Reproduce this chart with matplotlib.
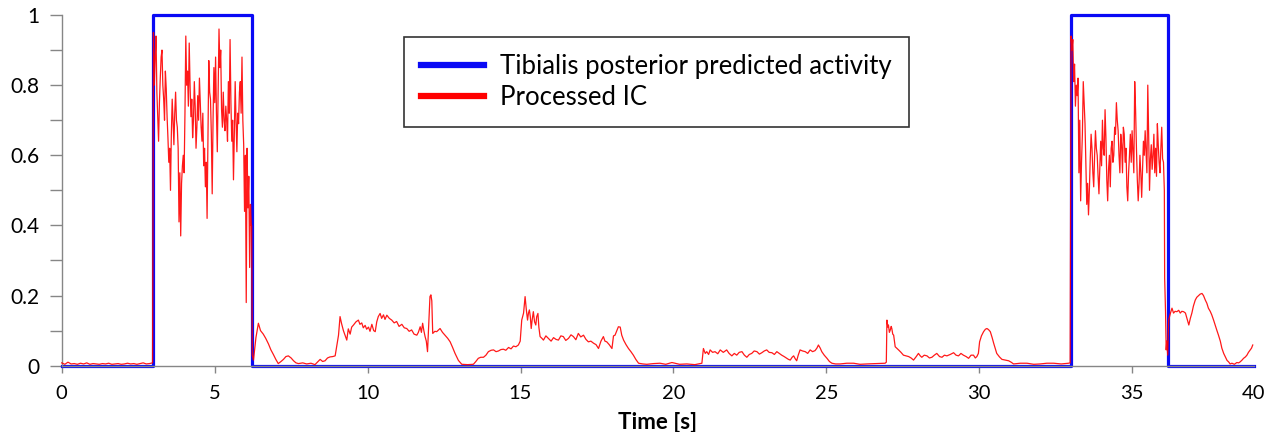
import numpy as np
import matplotlib
matplotlib.use("Agg")
import matplotlib.pyplot as plt
from matplotlib.lines import Line2D

plt.rcParams["font.family"] = ["Lato", "DejaVu Sans"]

# predicted activity (step function, value holds until next time)
pred_t = [0.0, 3.0, 6.21, 33.0, 36.17, 38.98]
pred_v = [0, 1, 0, 1, 0, 0]

# processed IC -- rest before first burst (uniform samples 0 .. 2.97 s)
ic_rest = [0.008, 0.004, 0.010, 0.005, 0.006, 0.004, 0.007, 0.005, 0.008, 0.004,
           0.006, 0.005, 0.004, 0.006, 0.005, 0.007, 0.004, 0.005, 0.006, 0.004,
           0.005, 0.007, 0.005, 0.006, 0.004, 0.006, 0.008, 0.005, 0.006, 0.008]

# first burst (uniform samples 3.0 .. 6.2 s)
ic_burst1 = [0.95, 0.80, 0.88, 0.94, 0.78, 0.71, 0.64, 0.75, 0.82, 0.88, 0.90, 0.80,
             0.76, 0.70, 0.84, 0.79, 0.71, 0.65, 0.58, 0.62, 0.50, 0.66, 0.76, 0.70,
             0.63, 0.72, 0.78, 0.70, 0.68, 0.62, 0.41, 0.55, 0.37, 0.52, 0.57, 0.60,
             0.55, 0.72, 0.94, 0.80, 0.84, 0.74, 0.92, 0.80, 0.71, 0.76, 0.65, 0.70,
             0.81, 0.74, 0.62, 0.68, 0.77, 0.70, 0.82, 0.75, 0.68, 0.64, 0.72, 0.57,
             0.62, 0.51, 0.58, 0.42, 0.65, 0.87, 0.78, 0.76, 0.66, 0.49, 0.70, 0.85,
             0.75, 0.88, 0.72, 0.61, 0.78, 0.96, 0.85, 0.90, 0.73, 0.68, 0.78, 0.70,
             0.67, 0.74, 0.70, 0.64, 0.81, 0.72, 0.93, 0.75, 0.64, 0.70, 0.53, 0.66,
             0.81, 0.70, 0.61, 0.72, 0.69, 0.78, 0.81, 0.72, 0.88, 0.70, 0.63, 0.44,
             0.60, 0.18, 0.62, 0.45, 0.54, 0.28, 0.46, 0.40]

# quiet stretches, (time, value) pairs
ic_mid1 = [(6.21, 0.40), (6.23, 0.03), (6.27, 0.016), (6.35, 0.08), (6.43, 0.121),
           (6.50, 0.100), (6.59, 0.090), (6.67, 0.078), (6.76, 0.062), (6.84, 0.045),
           (6.92, 0.032), (7.00, 0.018), (7.08, 0.006), (7.17, 0.012), (7.25, 0.018),
           (7.33, 0.026), (7.41, 0.028), (7.50, 0.022), (7.58, 0.014), (7.66, 0.008),
           (7.74, 0.006), (7.88, 0.008), (8.01, 0.005), (8.15, 0.007), (8.28, 0.003),
           (8.36, 0.010), (8.45, 0.018), (8.53, 0.012), (8.61, 0.014), (8.69, 0.022),
           (8.77, 0.025), (8.86, 0.026), (8.94, 0.028), (9.00, 0.060), (9.05, 0.087),
           (9.10, 0.140), (9.15, 0.120), (9.21, 0.100), (9.27, 0.085), (9.32, 0.073),
           (9.37, 0.105), (9.43, 0.090), (9.48, 0.110), (9.54, 0.116), (9.62, 0.125),
           (9.70, 0.130), (9.75, 0.118), (9.81, 0.122), (9.86, 0.108), (9.92, 0.115),
           (9.97, 0.104), (10.03, 0.110), (10.08, 0.098), (10.14, 0.118), (10.20, 0.100),
           (10.25, 0.097), (10.30, 0.125), (10.35, 0.140), (10.41, 0.149), (10.46, 0.135),
           (10.52, 0.145), (10.57, 0.132), (10.63, 0.144), (10.71, 0.135), (10.79, 0.130),
           (10.87, 0.122), (10.95, 0.126), (11.03, 0.112), (11.12, 0.118), (11.20, 0.108),
           (11.28, 0.106), (11.36, 0.098), (11.44, 0.102), (11.52, 0.090), (11.61, 0.087),
           (11.66, 0.095), (11.72, 0.111), (11.76, 0.095), (11.80, 0.121), (11.84, 0.100),
           (11.88, 0.083), (11.92, 0.070), (11.96, 0.040), (12.00, 0.116), (12.04, 0.197),
           (12.07, 0.202), (12.10, 0.185), (12.13, 0.092), (12.20, 0.098), (12.26, 0.097),
           (12.37, 0.106), (12.45, 0.095), (12.53, 0.087), (12.62, 0.078), (12.70, 0.068),
           (12.78, 0.052), (12.86, 0.035), (12.97, 0.015), (13.08, 0.004), (13.27, 0.003),
           (13.46, 0.004)]

ic_mid2 = [(13.54, 0.012), (13.62, 0.021), (13.70, 0.024), (13.79, 0.024), (13.87, 0.030),
           (13.95, 0.040), (14.04, 0.044), (14.12, 0.045), (14.20, 0.040), (14.28, 0.042),
           (14.36, 0.046), (14.44, 0.047), (14.52, 0.044), (14.61, 0.052), (14.69, 0.048),
           (14.77, 0.056), (14.85, 0.054), (14.93, 0.059), (14.99, 0.070), (15.04, 0.130),
           (15.10, 0.150), (15.15, 0.197), (15.19, 0.160), (15.23, 0.130), (15.26, 0.150),
           (15.29, 0.159), (15.32, 0.140), (15.35, 0.106), (15.38, 0.130), (15.42, 0.154),
           (15.46, 0.125), (15.50, 0.116), (15.53, 0.140), (15.57, 0.149), (15.60, 0.110),
           (15.64, 0.083), (15.70, 0.078), (15.75, 0.073), (15.83, 0.085), (15.91, 0.078),
           (16.00, 0.070), (16.08, 0.080), (16.16, 0.075), (16.24, 0.073), (16.32, 0.085),
           (16.40, 0.083), (16.48, 0.072), (16.57, 0.078), (16.65, 0.088), (16.73, 0.083),
           (16.81, 0.074), (16.89, 0.092), (16.97, 0.082), (17.06, 0.087), (17.14, 0.075),
           (17.22, 0.068), (17.30, 0.070), (17.39, 0.064), (17.47, 0.060), (17.55, 0.049),
           (17.63, 0.070), (17.71, 0.083), (17.76, 0.070), (17.82, 0.068), (17.90, 0.060),
           (17.99, 0.049), (18.04, 0.085), (18.09, 0.087), (18.15, 0.100), (18.20, 0.111),
           (18.26, 0.110), (18.31, 0.087), (18.37, 0.073), (18.45, 0.060), (18.53, 0.049),
           (18.61, 0.040), (18.69, 0.030), (18.77, 0.018), (18.86, 0.007), (19.00, 0.005),
           (19.13, 0.004), (19.35, 0.006), (19.56, 0.007), (19.75, 0.004), (19.95, 0.009),
           (20.20, 0.004), (20.44, 0.005), (20.70, 0.003), (20.93, 0.007)]

ic_mid3 = [(20.98, 0.049), (21.04, 0.035), (21.09, 0.040), (21.15, 0.032), (21.20, 0.045),
           (21.28, 0.038), (21.36, 0.040), (21.45, 0.034), (21.53, 0.045), (21.63, 0.038),
           (21.74, 0.045), (21.82, 0.035), (21.91, 0.028), (21.99, 0.035), (22.07, 0.030),
           (22.15, 0.038), (22.24, 0.040), (22.32, 0.030), (22.40, 0.024), (22.48, 0.032),
           (22.56, 0.035), (22.64, 0.042), (22.73, 0.040), (22.81, 0.033), (22.89, 0.037),
           (22.97, 0.042), (23.05, 0.045), (23.13, 0.038), (23.22, 0.037), (23.30, 0.032),
           (23.38, 0.040), (23.46, 0.035), (23.54, 0.030), (23.62, 0.026), (23.71, 0.021),
           (23.76, 0.018), (23.82, 0.016), (23.88, 0.024), (23.93, 0.028), (23.98, 0.020),
           (24.03, 0.014), (24.08, 0.030), (24.14, 0.045), (24.22, 0.042), (24.31, 0.040),
           (24.39, 0.035), (24.47, 0.045), (24.55, 0.040), (24.63, 0.043), (24.69, 0.050),
           (24.74, 0.059), (24.80, 0.050), (24.85, 0.040), (24.93, 0.030), (25.02, 0.021),
           (25.10, 0.012), (25.18, 0.007), (25.30, 0.005), (25.45, 0.005), (25.67, 0.007),
           (25.89, 0.007), (26.10, 0.004), (26.32, 0.005), (26.62, 0.006), (26.92, 0.007)]

ic_mid4 = [(26.96, 0.010), (26.98, 0.130), (27.01, 0.110), (27.03, 0.116), (27.06, 0.095),
           (27.09, 0.102), (27.12, 0.112), (27.14, 0.106), (27.17, 0.090), (27.20, 0.087),
           (27.25, 0.054), (27.30, 0.050), (27.36, 0.045), (27.44, 0.038), (27.52, 0.030),
           (27.60, 0.028), (27.69, 0.026), (27.77, 0.022), (27.85, 0.016), (27.93, 0.025),
           (28.01, 0.035), (28.07, 0.028), (28.12, 0.024), (28.20, 0.030), (28.29, 0.028),
           (28.37, 0.022), (28.45, 0.024), (28.53, 0.030), (28.61, 0.035), (28.70, 0.026),
           (28.78, 0.024), (28.86, 0.030), (28.94, 0.028), (29.05, 0.032), (29.16, 0.037),
           (29.24, 0.030), (29.32, 0.028), (29.40, 0.035), (29.48, 0.030), (29.57, 0.026),
           (29.65, 0.021), (29.73, 0.030), (29.81, 0.030), (29.87, 0.022), (29.92, 0.026),
           (29.97, 0.035), (30.01, 0.068), (30.07, 0.085), (30.14, 0.097), (30.20, 0.104),
           (30.25, 0.106), (30.30, 0.103), (30.36, 0.097), (30.42, 0.080), (30.47, 0.064),
           (30.52, 0.050), (30.57, 0.035), (30.66, 0.025), (30.74, 0.018), (30.85, 0.016),
           (30.96, 0.014), (31.04, 0.010), (31.12, 0.005), (31.34, 0.007), (31.56, 0.007),
           (31.78, 0.004), (31.99, 0.005), (32.21, 0.007), (32.43, 0.007), (32.68, 0.005),
           (32.92, 0.007), (32.97, 0.008)]

# second burst (uniform samples 33.0 .. 36.05 s)
ic_burst2 = [0.94, 0.90, 0.93, 0.81, 0.86, 0.74, 0.80, 0.77, 0.82, 0.55, 0.70, 0.47,
             0.58, 0.66, 0.81, 0.75, 0.69, 0.58, 0.46, 0.52, 0.43, 0.50, 0.59, 0.66,
             0.62, 0.55, 0.51, 0.60, 0.67, 0.62, 0.60, 0.54, 0.49, 0.57, 0.64, 0.57,
             0.70, 0.62, 0.60, 0.73, 0.65, 0.53, 0.47, 0.56, 0.60, 0.51, 0.62, 0.64,
             0.58, 0.60, 0.68, 0.66, 0.75, 0.70, 0.67, 0.60, 0.55, 0.66, 0.63, 0.55,
             0.68, 0.66, 0.58, 0.62, 0.51, 0.47, 0.55, 0.60, 0.66, 0.58, 0.67, 0.61,
             0.55, 0.81, 0.73, 0.62, 0.53, 0.47, 0.52, 0.60, 0.55, 0.48, 0.56, 0.64,
             0.60, 0.67, 0.61, 0.55, 0.80, 0.66, 0.50, 0.59, 0.63, 0.56, 0.60, 0.66,
             0.55, 0.62, 0.54, 0.69, 0.63, 0.58, 0.55, 0.62, 0.68, 0.59, 0.58, 0.50]

ic_tail = [(36.06, 0.25), (36.09, 0.15), (36.11, 0.045), (36.13, 0.07), (36.16, 0.03),
           (36.19, 0.13), (36.25, 0.15), (36.30, 0.164), (36.35, 0.150), (36.40, 0.155),
           (36.46, 0.154), (36.52, 0.158), (36.57, 0.150), (36.62, 0.155), (36.68, 0.154),
           (36.74, 0.150), (36.79, 0.135), (36.85, 0.116), (36.90, 0.135), (36.95, 0.150),
           (37.00, 0.170), (37.06, 0.187), (37.11, 0.195), (37.17, 0.200), (37.22, 0.204),
           (37.28, 0.206), (37.33, 0.200), (37.39, 0.187), (37.44, 0.178), (37.49, 0.164),
           (37.55, 0.155), (37.60, 0.145), (37.66, 0.130), (37.71, 0.116), (37.77, 0.100),
           (37.82, 0.087), (37.88, 0.070), (37.93, 0.050), (37.99, 0.035), (38.04, 0.026),
           (38.10, 0.015), (38.15, 0.011), (38.20, 0.005), (38.26, 0.007), (38.34, 0.004),
           (38.42, 0.009), (38.48, 0.008), (38.53, 0.011), (38.59, 0.016), (38.64, 0.021),
           (38.70, 0.025), (38.75, 0.030), (38.80, 0.038), (38.86, 0.045), (38.90, 0.050),
           (38.94, 0.059)]

xticks = [0, 5, 10, 15, 20, 25, 30, 35, 38.98]
xtick_labels = ["0", "5", "10", "15", "20", "25", "30", "35", "40"]
yticks = [0, 0.2, 0.4, 0.6, 0.8, 1.0]
ytick_labels = ["0", "0.2", "0.4", "0.6", "0.8", "1"]

# assemble the red trace
ic_t = list(np.linspace(0.0, 2.97, len(ic_rest)))
ic_v = list(ic_rest)
ic_t += list(np.linspace(3.0, 6.2, len(ic_burst1)))
ic_v += ic_burst1
for seg in (ic_mid1, ic_mid2, ic_mid3, ic_mid4):
    ic_t += [p[0] for p in seg]
    ic_v += [p[1] for p in seg]
ic_t += list(np.linspace(33.0, 36.05, len(ic_burst2)))
ic_v += ic_burst2
ic_t += [p[0] for p in ic_tail]
ic_v += [p[1] for p in ic_tail]

BLUE = "#0a0af5"
RED = "#ff0000"
GREY = "#868686"

fig = plt.figure(figsize=(12.75, 4.32), dpi=100)
ax = fig.add_axes([0.0484, 0.1535, 0.9351, 0.8118])

ax.step(pred_t, pred_v, where="post", color=BLUE, lw=2.3, clip_on=False, zorder=2)
ax.plot(ic_t, ic_v, color=RED, lw=0.9, alpha=0.9, clip_on=False, zorder=3)

ax.set_xlim(0, 38.98)
ax.set_ylim(0, 1)

ax.spines["top"].set_visible(False)
ax.spines["right"].set_visible(False)
for s in ("left", "bottom"):
    ax.spines[s].set_color(GREY)
    ax.spines[s].set_linewidth(1.0)

ax.set_xticks(xticks)
ax.set_xticklabels(xtick_labels, fontsize=14.5)
ax.xaxis.get_major_ticks()[-1].tick1line.set_visible(False)
ax.set_yticks(yticks)
ax.set_yticklabels(ytick_labels, fontsize=15)
ax.set_yticks([0.1, 0.3, 0.5, 0.7, 0.9], minor=True)
ax.tick_params(axis="y", which="both", direction="out", length=9, width=1,
               color=GREY, pad=7)
ax.tick_params(axis="x", direction="out", length=5, width=1, color=GREY, pad=9)

ax.set_xlabel("Time [s]", fontsize=16, fontweight="bold", labelpad=7)

handles = [Line2D([], [], color=BLUE, lw=4.5),
           Line2D([], [], color=RED, lw=4.5)]
leg = ax.legend(handles, ["Tibialis posterior predicted activity", "Processed IC"],
                loc="upper left", bbox_to_anchor=(0.287, 0.937), borderaxespad=0,
                fontsize=18.5, frameon=True, fancybox=False, edgecolor="black",
                handlelength=2.45, handletextpad=0.66, borderpad=0.65,
                labelspacing=0.25)
leg.get_frame().set_linewidth(1.2)

fig.savefig("out.png", dpi=100)
